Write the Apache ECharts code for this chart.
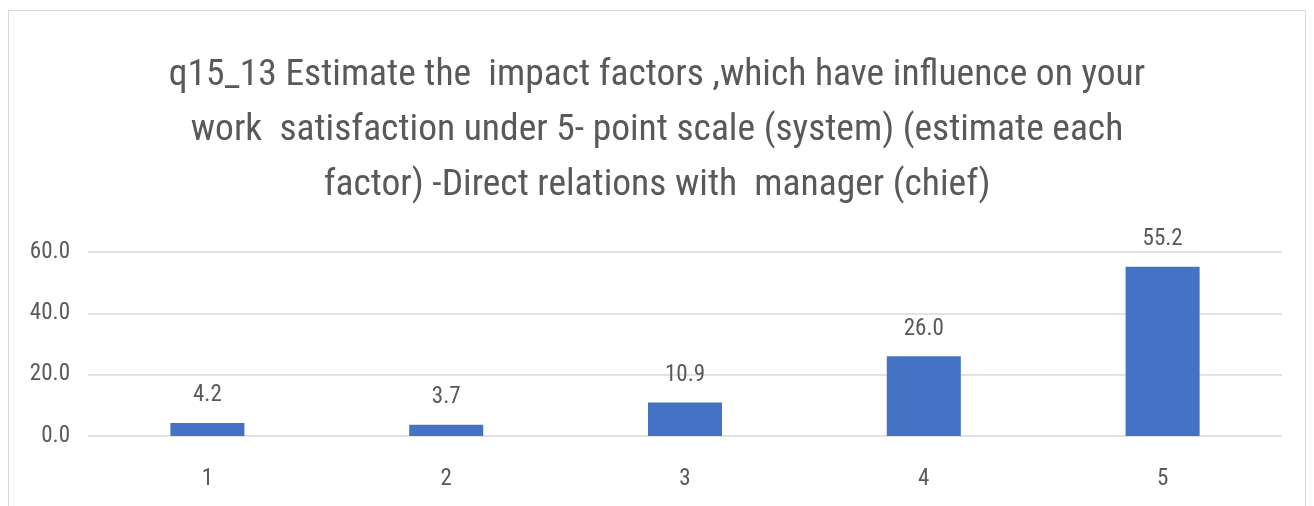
<!DOCTYPE html>
<html>
<head>
<meta charset="utf-8">
<script src="https://cdn.jsdelivr.net/npm/echarts@6/dist/echarts.min.js"></script>
<style>
    html, body { margin: 0; padding: 0; background: #ffffff; }
    .frame {
        position: absolute;
        left: 8px; top: 10px; width: 1298px; height: 520px;
        border: 1.5px solid #d9d9d9;
        box-sizing: border-box;
    }
    #chart { position: absolute; left: 0; top: 0; width: 1314px; height: 506px; }
</style>
</head>
<body>
<div class="frame"></div>
<div id="chart"></div>
<script>
    // 数据
    var categories = ['1', '2', '3', '4', '5'];
    var percents = [4.2, 3.7, 10.9, 26.0, 55.2];
    var yTicks = { min: 0, max: 60, step: 20 };
    var titleText = 'q15_13 Estimate the  impact factors ,which have influence on your\n' +
        'work  satisfaction under 5- point scale (system) (estimate each\n' +
        'factor) -Direct relations with  manager (chief)';

    var font = '"Liberation Sans Narrow", "Roboto Condensed", "DejaVu Sans Condensed", sans-serif';
    var grey = '#595959';

    var chart = echarts.init(document.getElementById('chart'));
    chart.setOption({
        animation: false,
        title: {
            text: titleText,
            left: 'center',
            top: 43,
            textStyle: {
                fontFamily: font,
                fontSize: 37.5,
                fontWeight: 'normal',
                color: grey,
                lineHeight: 55,
                align: 'center'
            }
        },
        grid: { left: 88, right: 32, top: 252, bottom: 70 },
        xAxis: {
            type: 'category',
            data: categories,
            axisLine: { show: false },
            axisTick: { show: false },
            axisLabel: { color: grey, fontFamily: font, fontSize: 23, margin: 32 }
        },
        yAxis: {
            type: 'value',
            min: yTicks.min,
            max: yTicks.max,
            interval: yTicks.step,
            axisLine: { show: false },
            axisTick: { show: false },
            axisLabel: {
                color: grey, fontFamily: font, fontSize: 23, margin: 18,
                formatter: function (v) { return v.toFixed(1); }
            },
            splitLine: { lineStyle: { color: '#d9d9d9', width: 1.5 } }
        },
        series: [{
            type: 'bar',
            data: percents,
            barWidth: '31%',
            itemStyle: { color: '#4472c4' },
            label: {
                show: true,
                position: 'top',
                distance: 16,
                color: grey,
                fontFamily: font,
                fontSize: 23,
                formatter: function (p) { return p.value.toFixed(1); }
            }
        }]
    });
</script>
</body>
</html>
